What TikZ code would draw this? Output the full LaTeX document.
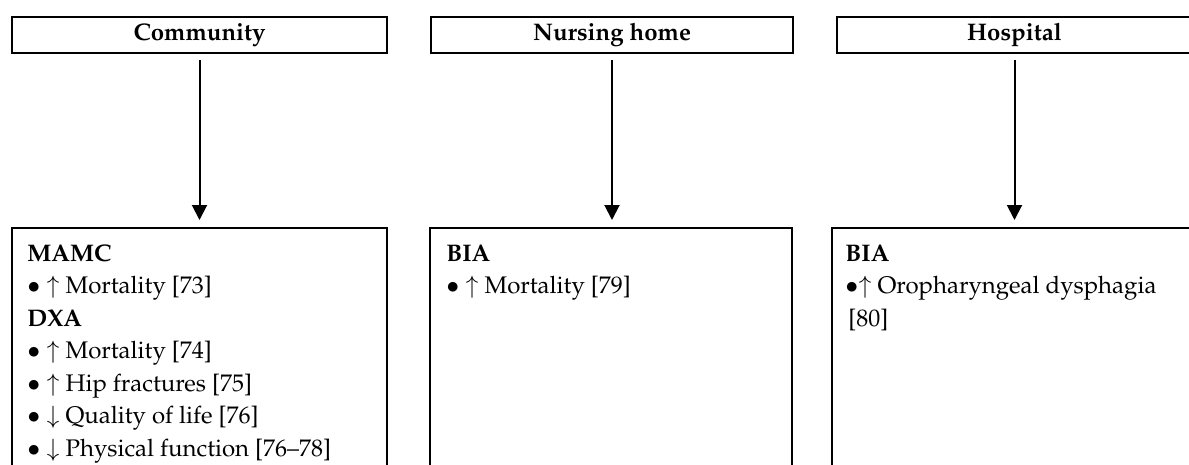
\documentclass[tikz,border=0pt]{standalone}
\usepackage[T1]{fontenc}
\usepackage{mathpazo}
\usetikzlibrary{positioning,arrows.meta}

\begin{document}
\begin{tikzpicture}[x=0.5pt, y=-0.5pt,
      node distance=22pt,
      place/.style={draw, line width=1.3pt, outer sep=0pt, inner sep=0pt,
                    minimum height=18pt, font=\fontsize{12}{14}\selectfont\bfseries},
      result/.style={draw, line width=1.3pt, outer sep=0pt, inner sep=0pt,
                     minimum height=131pt},
      txt/.style={anchor=north west, inner sep=0pt, align=left,
                  font=\fontsize{12}{16.25}\selectfont},
      arrow/.style={-{Triangle[length=7.5pt,width=7.5pt]}, line width=1pt,
                    shorten <=3.5pt, shorten >=4pt}
    ]
      \useasboundingbox (0,0) rectangle (1189,465);
      \clip (0,0) rectangle (1189,465);
      % settings
      \node (comm) [place, minimum width=187.5pt] at (199.5,35) {Community};
      \node (nurs) [place, minimum width=181pt, right=of comm] {Nursing home};
      \node (hosp) [place, minimum width=177.5pt, right=of nurs] {Hospital};
      % results
      \node (commres) [result, minimum width=187.5pt, below=87.5pt of comm] {};
      \node (nursres) [result, minimum width=181pt, right=21.5pt of commres] {};
      \node (hospres) [result, minimum width=180.5pt, right=20pt of nursres] {};
      \node (commtxt) [txt] at ([shift={(7.5pt,-8pt)}]commres.north west)
        {\textbf{MAMC}\\
         $\bullet$ $\uparrow$ Mortality [73]\\
         \textbf{DXA}\\
         $\bullet$ $\uparrow$ Mortality [74]\\
         $\bullet$ $\uparrow$ Hip fractures [75]\\
         $\bullet$ $\downarrow$ Quality of life [76]\\
         $\bullet$ $\downarrow$ Physical function [76--78]};
      \node (nurstxt) [txt] at ([shift={(8pt,-8pt)}]nursres.north west)
        {\textbf{BIA}\\
         $\bullet$ $\uparrow$ Mortality [79]};
      \node (hosptxt) [txt] at ([shift={(6.5pt,-8pt)}]hospres.north west)
        {\textbf{BIA}\\
         $\bullet$$\uparrow$ Oropharyngeal dysphagia\\
         \hspace{1.5pt}[80]};
      \draw[arrow] (comm.south) -- (comm.south |- commres.north);
      \draw[arrow] (nurs.south) -- (nurs.south |- nursres.north);
      \draw[arrow] (hosp.south) -- (hosp.south |- hospres.north);
    \end{tikzpicture}
\end{document}
